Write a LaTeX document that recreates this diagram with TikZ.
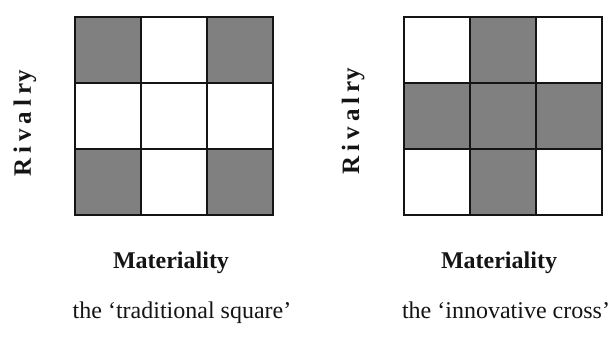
\documentclass[tikz,border=0pt]{standalone}
\usepackage{fontspec}
\setmainfont{Liberation Serif}
\usepackage{tikz}
\usetikzlibrary{positioning}
\definecolor{cell-grey}{HTML}{808080}
\definecolor{cell-ink}{HTML}{141414}
\newcommand{\rivlabel}{R\kern5pt i\kern5pt v\kern5pt a\kern5pt l\kern5pt r\kern1pt y}
\tikzset{
  gridline/.style={cell-ink,line width=1.4pt},
  axislabel/.style={cell-ink,inner sep=0pt,font=\fontsize{24}{28}\selectfont\bfseries},
  rivallabel/.style={cell-ink,inner sep=0pt,rotate=90,anchor=base,font=\fontsize{25}{28}\selectfont\bfseries},
  caption/.style={cell-ink,inner sep=0pt,anchor=base,font=\fontsize{24}{28}\selectfont}
}
\begin{document}
\begin{tikzpicture}[x=1pt,y=1pt]
\useasboundingbox (0,0) rectangle (610,338);

% ============ PANEL (a): traditional square ============
\begin{scope}[shift={(75,123)}]
  \foreach \c/\r in {0/0,2/0,0/2,2/2}
    \fill[cell-grey] (66*\c,66*\r) rectangle +(66,66);   % corner cells
  \draw[gridline] (0,0) grid[step=66] (198,198);
  \draw[gridline] (0,0) rectangle (198,198);
\end{scope}
\node[rivallabel] (rivA) at (31,214.5) {\rivlabel};
\node[axislabel,anchor=base] (matA) at (171,70) {Materiality};
\node[caption] (capA) at (182,20) {the ‘traditional square’};

% ============ PANEL (b): innovative cross ============
\begin{scope}[shift={(404,123)}]
  \foreach \c/\r in {1/0,0/1,1/1,2/1,1/2}
    \fill[cell-grey] (66*\c,66*\r) rectangle +(66,66);   % cross cells
  \draw[gridline] (0,0) grid[step=66] (198,198);
  \draw[gridline] (0,0) rectangle (198,198);
\end{scope}
\node[rivallabel] (rivB) at (359,217) {\rivlabel};
\node[axislabel,anchor=base] (matB) at (499,70) {Materiality};
\node[caption] (capB) at (506,20) {the ‘innovative cross’};

\end{tikzpicture}
\end{document}
